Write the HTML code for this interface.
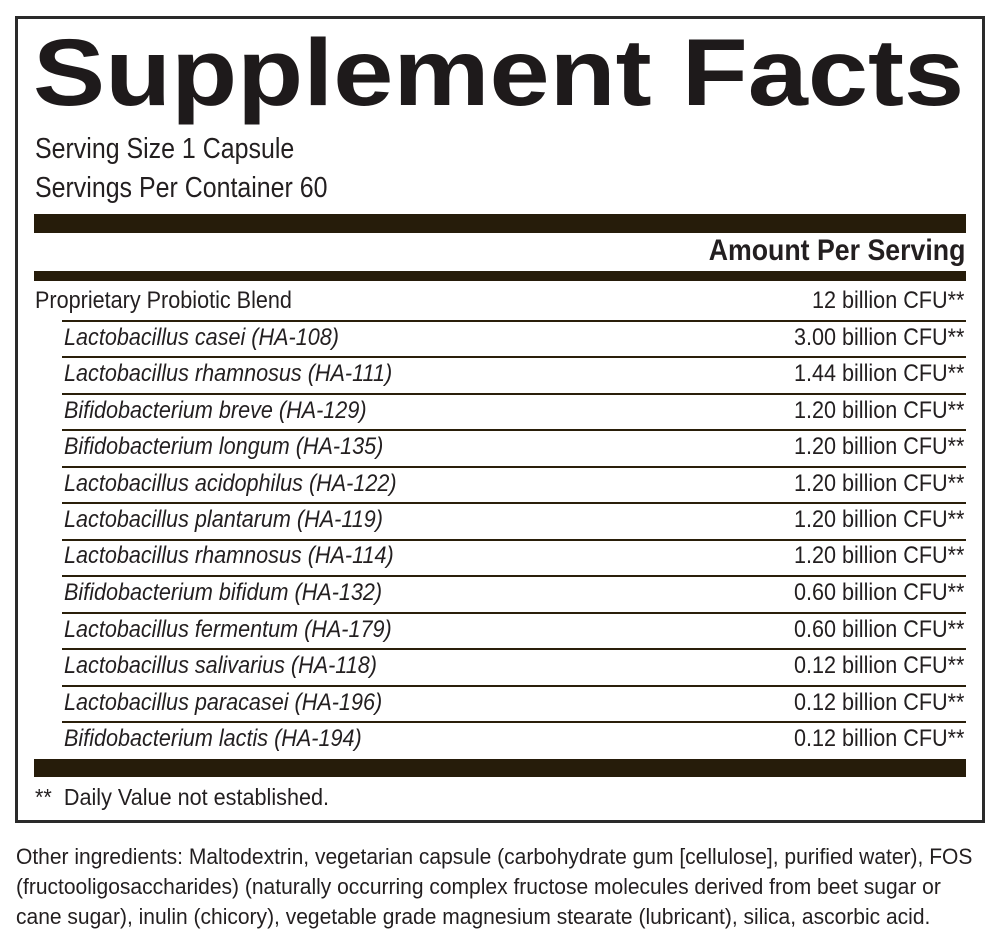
<!DOCTYPE html>
<html><head><style>
body{margin:0;width:1000px;height:938px;background:#fff;position:relative;font-family:"Liberation Sans",Arial,sans-serif;color:#231f20;overflow:hidden}
.box{position:absolute;left:15px;top:16px;width:964px;height:801px;border:3px solid #2a2a2a}
.a{position:absolute;white-space:nowrap}
.c{display:inline-block;transform:scaleX(0.9);transform-origin:left top}
.r{display:inline-block;transform:scaleX(0.9);transform-origin:right top}
.bar{position:absolute;left:34px;width:932px;background:#261c0a}
.ln{position:absolute;left:62px;width:904px;height:2px;background:#2a1f0a}
.row{position:absolute;left:64px;font-size:24px;font-style:italic;line-height:28px}
.val{position:absolute;right:36px;font-size:24px;line-height:28px;text-align:right}
</style></head><body>
<div class="box"></div>
<div class="a" style="left:33px;top:18px;font-size:95px;font-weight:bold;line-height:110px;color:#1e1a1b"><span style="display:inline-block;transform:scaleX(1.138);transform-origin:left top">Supplement Facts</span></div>
<div class="a" style="left:35px;top:132px;font-size:29px;line-height:34px"><span class="c" style="transform:scaleX(0.86)">Serving Size 1 Capsule</span></div>
<div class="a" style="left:35px;top:171px;font-size:29px;line-height:34px"><span class="c" style="transform:scaleX(0.86)">Servings Per Container 60</span></div>
<div class="bar" style="top:214px;height:19px"></div>
<div class="a" style="right:35px;top:234px;font-size:30px;font-weight:bold;line-height:34px"><span class="r" style="transform:scaleX(0.89)">Amount Per Serving</span></div>
<div class="bar" style="top:271px;height:10px"></div>
<div class="a" style="left:35px;top:287px;font-size:24px;line-height:28px"><span class="c">Proprietary Probiotic Blend</span></div>
<div class="val" style="top:287px"><span class="r">12 billion CFU**</span></div>

<div class="ln" style="top:320px"></div>
<div class="row" style="top:324px"><span class="c">Lactobacillus casei (HA-108)</span></div><div class="val" style="top:324px"><span class="r">3.00 billion CFU**</span></div>
<div class="ln" style="top:356px"></div>
<div class="row" style="top:360px"><span class="c">Lactobacillus rhamnosus (HA-111)</span></div><div class="val" style="top:360px"><span class="r">1.44 billion CFU**</span></div>
<div class="ln" style="top:393px"></div>
<div class="row" style="top:397px"><span class="c">Bifidobacterium breve (HA-129)</span></div><div class="val" style="top:397px"><span class="r">1.20 billion CFU**</span></div>
<div class="ln" style="top:429px"></div>
<div class="row" style="top:433px"><span class="c">Bifidobacterium longum (HA-135)</span></div><div class="val" style="top:433px"><span class="r">1.20 billion CFU**</span></div>
<div class="ln" style="top:466px"></div>
<div class="row" style="top:470px"><span class="c">Lactobacillus acidophilus (HA-122)</span></div><div class="val" style="top:470px"><span class="r">1.20 billion CFU**</span></div>
<div class="ln" style="top:502px"></div>
<div class="row" style="top:506px"><span class="c">Lactobacillus plantarum (HA-119)</span></div><div class="val" style="top:506px"><span class="r">1.20 billion CFU**</span></div>
<div class="ln" style="top:539px"></div>
<div class="row" style="top:542px"><span class="c">Lactobacillus rhamnosus (HA-114)</span></div><div class="val" style="top:542px"><span class="r">1.20 billion CFU**</span></div>
<div class="ln" style="top:575px"></div>
<div class="row" style="top:579px"><span class="c">Bifidobacterium bifidum (HA-132)</span></div><div class="val" style="top:579px"><span class="r">0.60 billion CFU**</span></div>
<div class="ln" style="top:612px"></div>
<div class="row" style="top:616px"><span class="c">Lactobacillus fermentum (HA-179)</span></div><div class="val" style="top:616px"><span class="r">0.60 billion CFU**</span></div>
<div class="ln" style="top:648px"></div>
<div class="row" style="top:652px"><span class="c">Lactobacillus salivarius (HA-118)</span></div><div class="val" style="top:652px"><span class="r">0.12 billion CFU**</span></div>
<div class="ln" style="top:685px"></div>
<div class="row" style="top:689px"><span class="c">Lactobacillus paracasei (HA-196)</span></div><div class="val" style="top:689px"><span class="r">0.12 billion CFU**</span></div>
<div class="ln" style="top:721px"></div>
<div class="row" style="top:725px"><span class="c">Bifidobacterium lactis (HA-194)</span></div><div class="val" style="top:725px"><span class="r">0.12 billion CFU**</span></div>
<div class="bar" style="top:759px;height:18px"></div>
<div class="a" style="left:35px;top:783px;font-size:23px;line-height:28px"><span class="c" style="transform:scaleX(0.94)">**&nbsp; Daily Value not established.</span></div>

<div class="a" style="left:16px;top:842px;font-size:22px;line-height:30px"><span class="c" style="transform:scaleX(0.955)">Other ingredients: Maltodextrin, vegetarian capsule (carbohydrate gum [cellulose], purified water), FOS<br>(fructooligosaccharides) (naturally occurring complex fructose molecules derived from beet sugar or<br>cane sugar), inulin (chicory), vegetable grade magnesium stearate (lubricant), silica, ascorbic acid.</span></div>
</body></html>
